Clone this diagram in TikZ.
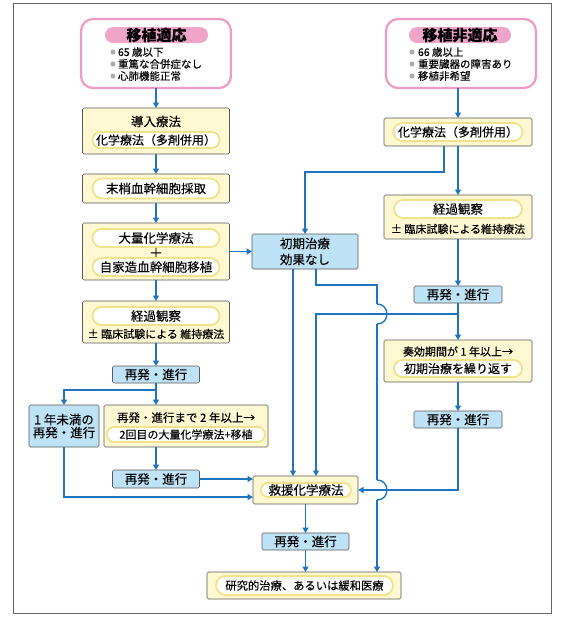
\documentclass[tikz,border=0pt]{standalone}
\usepackage{fontspec}
\setmainfont{Noto Sans CJK JP}[FakeBold=0.15]
\usetikzlibrary{arrows.meta,shapes.misc}

\definecolor{flow}{HTML}{1F74C0}
\definecolor{boxY}{HTML}{FFF9D3}
\definecolor{pillY}{HTML}{F0E38A}
\definecolor{boxB}{HTML}{BFE3F6}
\definecolor{pinkB}{HTML}{EE9BC3}
\definecolor{pinkF}{HTML}{EFA5C9}
\definecolor{edge}{HTML}{5A5A5A}
\definecolor{framec}{HTML}{666666}

\newcommand{\fs}[1]{\fontsize{#1}{#1}\selectfont}

\tikzset{
  sz/.style 2 args={minimum width=#1, minimum height=#2},
  ybox/.style={draw=edge, line width=0.6pt, fill=boxY, rounded corners=1.5pt},
  bbox/.style={draw=edge, line width=0.6pt, fill=boxB, rounded corners=1.5pt},
  pill/.style={rounded rectangle, draw=pillY, line width=1.8pt, fill=white},
  pinkbox/.style={draw=pinkB, line width=2.2pt, fill=white, rounded corners=12pt},
  pinkpill/.style={rounded rectangle, fill=pinkF, font=\fs{15}\bfseries},
  bul/.style={circle, fill=gray!65, minimum size=5pt},
  btext/.style={anchor=west, font=\fs{10.5}},
  line/.style={draw=flow, line width=1.4pt},
  arr/.style={line, -{Triangle[length=5.5pt,width=6pt]}},
}

\begin{document}
\begin{tikzpicture}[x=1pt,y=-1pt, font=\fs{12.5},
  every node/.append style={inner sep=0pt, outer sep=0pt}]
\useasboundingbox (0,0) rectangle (570,619);
\fill[white] (0,0) rectangle (570,619);
\draw[framec, line width=0.9pt] (13,3.5) rectangle (551,613);

% ---------- left: transplant eligible ----------
\node[pinkbox, sz={150}{69}] (tx) at (156,53.5) {};
\node[pinkpill, sz={103}{16}] (txt) at (156.5,35) {移植適応};
\node[bul] (txb1) at (113,52) {};
\node[btext] (txt1) at (118,52) {65 歳以下};
\node[bul] (txb2) at (113,64) {};
\node[btext] (txt2) at (118,64) {重篤な合併症なし};
\node[bul] (txb3) at (113,76) {};
\node[btext] (txt3) at (118,76) {心肺機能正常};

\node[ybox, sz={147}{46}] (a1) at (156,131) {};
\node (a1t) at (156,121.5) {導入療法};
\node[pill, sz={127}{16}, font=\fs{12}] (a1p) at (156,140) {化学療法（多剤併用）};

\node[ybox, sz={147}{29}] (a2) at (156,188.5) {};
\node[pill, sz={127}{20}] (a2p) at (156,188.5) {末梢血幹細胞採取};

\node[ybox, sz={147}{57}] (a3) at (156,251.5) {};
\node[pill, sz={127}{18}] (a3p1) at (156,238) {大量化学療法};
\node[font=\fs{14}] (a3plus) at (156,253) {＋};
\node[pill, sz={127}{18}] (a3p2) at (156,267) {自家造血幹細胞移植};

\node[ybox, sz={147}{42}] (a4) at (156,322) {};
\node[pill, sz={127}{18}] (a4p) at (156,316) {経過観察};
\node[font=\fs{11}] (a4t) at (156,334) {± 臨床試験による 維持療法};

\node[bbox, sz={87}{17}] (a5) at (156,374.5) {再発・進行};

\node[bbox, sz={70}{42}, align=center, font=\fontsize{12.5}{13}\selectfont] (b1) at (64,426) {1 年未満の\\再発・進行};
\node[ybox, sz={164}{42}] (b2) at (186,426) {};
\node[font=\fs{11.5}] (b2t) at (186,417.5) {再発・進行まで 2 年以上→};
\node[pill, sz={158}{15}, font=\fs{11}] (b2p) at (186,434.5) {2回目の大量化学療法+移植};

\node[bbox, sz={87}{18}] (b3) at (156,479) {再発・進行};

% ---------- middle ----------
\node[bbox, sz={106}{35}, align=center, font=\fontsize{12.5}{16}\selectfont] (m1) at (305,251.5) {初期治療\\効果なし};
\node[ybox, sz={105}{28}] (m2) at (305.5,490) {};
\node[pill, sz={90}{14}] (m2p) at (306,490) {救援化学療法};
\node[bbox, sz={87}{17}] (m3) at (305.5,541.5) {再発・進行};
\node[ybox, sz={194}{27}] (m4) at (304,585.5) {};
\node[pill, sz={177}{19}, font=\fs{11.3}] (m4p) at (304.5,585.5) {研究的治療、あるいは緩和医療};

% ---------- right: transplant ineligible ----------
\node[pinkbox, sz={150}{69}] (tn) at (461,53.5) {};
\node[pinkpill, sz={102}{16}] (tnt) at (460,35) {移植非適応};
\node[bul] (tnb1) at (412,52) {};
\node[btext] (tnt1) at (418,52) {66 歳以上};
\node[bul] (tnb2) at (412,64) {};
\node[btext] (tnt2) at (418,64) {重要臓器の障害あり};
\node[bul] (tnb3) at (412,76) {};
\node[btext] (tnt3) at (418,76) {移植非希望};

\node[ybox, sz={148}{28}] (r1) at (458,132) {};
\node[pill, sz={129}{18}, font=\fs{12}] (r1p) at (458,132) {化学療法（多剤併用）};

\node[ybox, sz={148}{44}] (r2) at (458,217) {};
\node[pill, sz={128}{18}] (r2p) at (458,209) {経過観察};
\node[font=\fs{11}] (r2t) at (458,229) {± 臨床試験による維持療法};

\node[bbox, sz={88}{17}] (r3) at (458,294.5) {再発・進行};

\node[ybox, sz={148}{42}] (r4) at (458,361) {};
\node[font=\fs{11}] (r4t) at (458,351.5) {奏効期間が 1 年以上→};
\node[pill, sz={128}{17}, font=\fs{12}] (r4p) at (458,368.5) {初期治療を繰り返す};

\node[bbox, sz={88}{17}] (r5) at (458,419.5) {再発・進行};

\coordinate (br) at (156,390);
\coordinate (j1) at (458,314);
\coordinate (h1) at (377,314);
\coordinate (h2) at (377,490);

% ---------- connectors ----------
\draw[arr] (tx.south) -- (a1.north);
\draw[arr] (a1.south) -- (a2.north);
\draw[arr] (a2.south) -- (a3.north);
\draw[arr] (a3.south) -- (a4.north);
\draw[arr] (a4.south) -- (a5.north);
\draw[arr] (a3.east) -- (m1.west);
\draw[line] (a5.south) -- (br);
\draw[arr] (br) -| (b1.north);
\draw[arr] (br) -- (br |- b2.north);
\draw[arr] (b2.south -| a5) -- (b3.north);
\draw[arr] (b3.east) -- (b3.east -| m2.west);
\draw[arr] (b1.south) |- ([yshift=-7pt]m2.west);

\draw[arr] (tn.south -| r1) -- (r1.north);
\draw[arr] ([xshift=-14pt]r1.south) -- ++(0,26) -| (m1.north);
\draw[arr] (r1.south) -- (r2.north);
\draw[arr] (r2.south) -- (r3.north);
\draw[arr] (r3.south) -- (r4.north);
\draw[arr] (r4.south) -- (r5.north);
\draw[arr] (j1) -| ([xshift=10.5pt]m2.north);
\draw[arr] ([xshift=-12pt]m1.south) -- ([xshift=-12pt]m1.south |- m2.north);
% long connector with two line hops (drawn in pieces)
\draw[line] ([xshift=11pt]m1.south) -- ++(0,16) -| ([yshift=10pt]h1);
\draw[line] ([yshift=10pt]h1) to[out=0,in=0,looseness=1.7] ([yshift=-10pt]h1);
\draw[line] ([yshift=-10pt]h1) -- ([yshift=10pt]h2);
\draw[line] ([yshift=10pt]h2) to[out=0,in=0,looseness=1.7] ([yshift=-10pt]h2);
\draw[arr] ([yshift=-10pt]h2) -- (h2 |- m4.north);
\draw[arr] (r5.south) |- (m2.east);
\draw[arr] (m2.south) -- (m3.north);
\draw[arr] (m3.south) -- (m3.south |- m4.north);
\end{tikzpicture}
\end{document}
